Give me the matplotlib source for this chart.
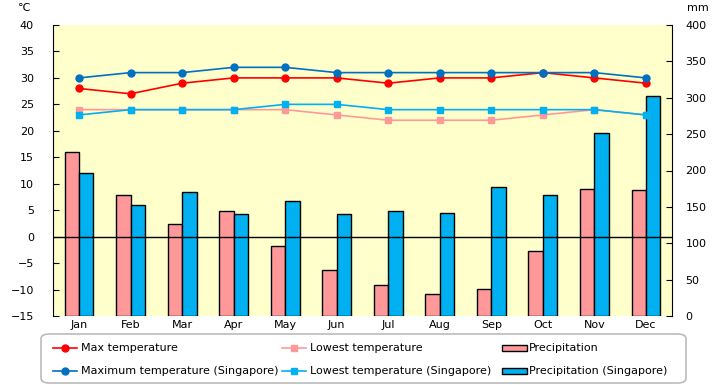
import numpy as np
import matplotlib
matplotlib.use("Agg")
import matplotlib.pyplot as plt
from matplotlib.patches import FancyBboxPatch, Rectangle
from matplotlib.lines import Line2D

months = ['Jan', 'Feb', 'Mar', 'Apr', 'May', 'Jun', 'Jul', 'Aug', 'Sep', 'Oct', 'Nov', 'Dec']
max_temp = [28, 27, 29, 30, 30, 30, 29, 30, 30, 31, 30, 29]
low_temp = [24, 24, 24, 24, 24, 23, 22, 22, 22, 23, 24, 23]
precip = [226, 167, 126, 144, 96, 63, 42, 30, 37, 89, 174, 173]
max_sg = [30, 31, 31, 32, 32, 31, 31, 31, 31, 31, 31, 30]
low_sg = [23, 24, 24, 24, 25, 25, 24, 24, 24, 24, 24, 23]
precip_sg = [197, 153, 170, 140, 158, 140, 144, 142, 177, 166, 251, 303]

c_red = '#FF0000'
c_pink = '#FF9999'
c_dblue = '#0070C0'
c_lblue = '#00B0F0'

plt.rcParams['font.family'] = ['DejaVu Sans']
fs = 8

fig = plt.figure(figsize=(7.2, 3.85), dpi=100)
ax = fig.add_axes([53.3/720, 1-316/385, (671.7-53.3)/720, 291/385])
ax2 = ax.twinx()

x = np.arange(12)
w = 0.28
ax2.bar(x - w/2, precip, w, color=c_pink, edgecolor='black', linewidth=1, zorder=2)
ax2.bar(x + w/2, precip_sg, w, color=c_lblue, edgecolor='black', linewidth=1, zorder=2)
ax2.set_ylim(0, 400)
ax2.set_yticks(range(0, 401, 50))

# temperature lines drawn above bars
ax.set_zorder(ax2.get_zorder() + 1)
ax.patch.set_visible(False)
ax2.patch.set_visible(True)
ax2.patch.set_facecolor('#FFFFCC')

ax.axhline(0, color='black', lw=1, zorder=3)
ax.plot(x, max_temp, '-o', color=c_red, ms=5, lw=1.2, zorder=5)
ax.plot(x, low_temp, '-s', color=c_pink, ms=5, lw=1.2, zorder=4)
ax.plot(x, max_sg, '-o', color=c_dblue, ms=5, lw=1.2, zorder=5)
ax.plot(x, low_sg, '-s', color=c_lblue, ms=5, lw=1.2, zorder=4)
ax.set_ylim(-15, 40)
ax.set_yticks(range(-15, 41, 5))
ax.set_xlim(-0.5, 11.5)
ax.set_xticks(x)
ax.set_xticklabels(months, fontsize=fs)

for a in (ax, ax2):
    a.spines['top'].set_visible(False)
    a.spines['bottom'].set_visible(False)
    a.tick_params(axis='y', direction='in', length=4, labelsize=fs)
    a.tick_params(axis='x', length=0, pad=3, labelsize=fs)
ax.spines['right'].set_visible(False)
ax2.spines['left'].set_visible(False)
ax.tick_params(axis='y', pad=14)
ax2.tick_params(axis='y', pad=10)

fig.text(18/720, 1-8/385, '℃', fontsize=fs, ha='left', va='center')
fig.text(698/720, 1-8/385, 'mm', fontsize=fs, ha='center', va='center')

# legend box
W, H = 720.0, 385.0
box = FancyBboxPatch((41/W, 1-383/H), (686-41)/W, (383-334)/H,
                     boxstyle='round,pad=0,rounding_size=0.012', transform=fig.transFigure,
                     facecolor='white', edgecolor='#BBBBBB', linewidth=1.2, zorder=1)
fig.patches.append(box)

entries = [
    (53, 348, 'line', c_red, 'o', 'Max temperature'),
    (53, 371, 'line', c_dblue, 'o', 'Maximum temperature (Singapore)'),
    (282, 348, 'line', c_pink, 's', 'Lowest temperature'),
    (282, 371, 'line', c_lblue, 's', 'Lowest temperature (Singapore)'),
    (502, 348, 'patch', c_pink, None, 'Precipitation'),
    (502, 371, 'patch', c_lblue, None, 'Precipitation (Singapore)'),
]
for px, py, kind, col, mk, lab in entries:
    if kind == 'line':
        fig.add_artist(Line2D([px/W, (px+24)/W], [1-py/H, 1-py/H], color=col, lw=1.2,
                              transform=fig.transFigure, zorder=5))
        fig.add_artist(Line2D([(px+12)/W], [1-py/H], color=col, marker=mk, ms=5,
                              transform=fig.transFigure, zorder=5))
        tx = px + 28
    else:
        fig.add_artist(Rectangle((px/W, 1-(py+3)/H), 25/W, 6/H, facecolor=col,
                                 edgecolor='black', lw=1, transform=fig.transFigure, zorder=5))
        tx = px + 27
    fig.text(tx/W, 1-py/H, lab, fontsize=fs, ha='left', va='center', zorder=5)

fig.savefig('out.png', dpi=100)
